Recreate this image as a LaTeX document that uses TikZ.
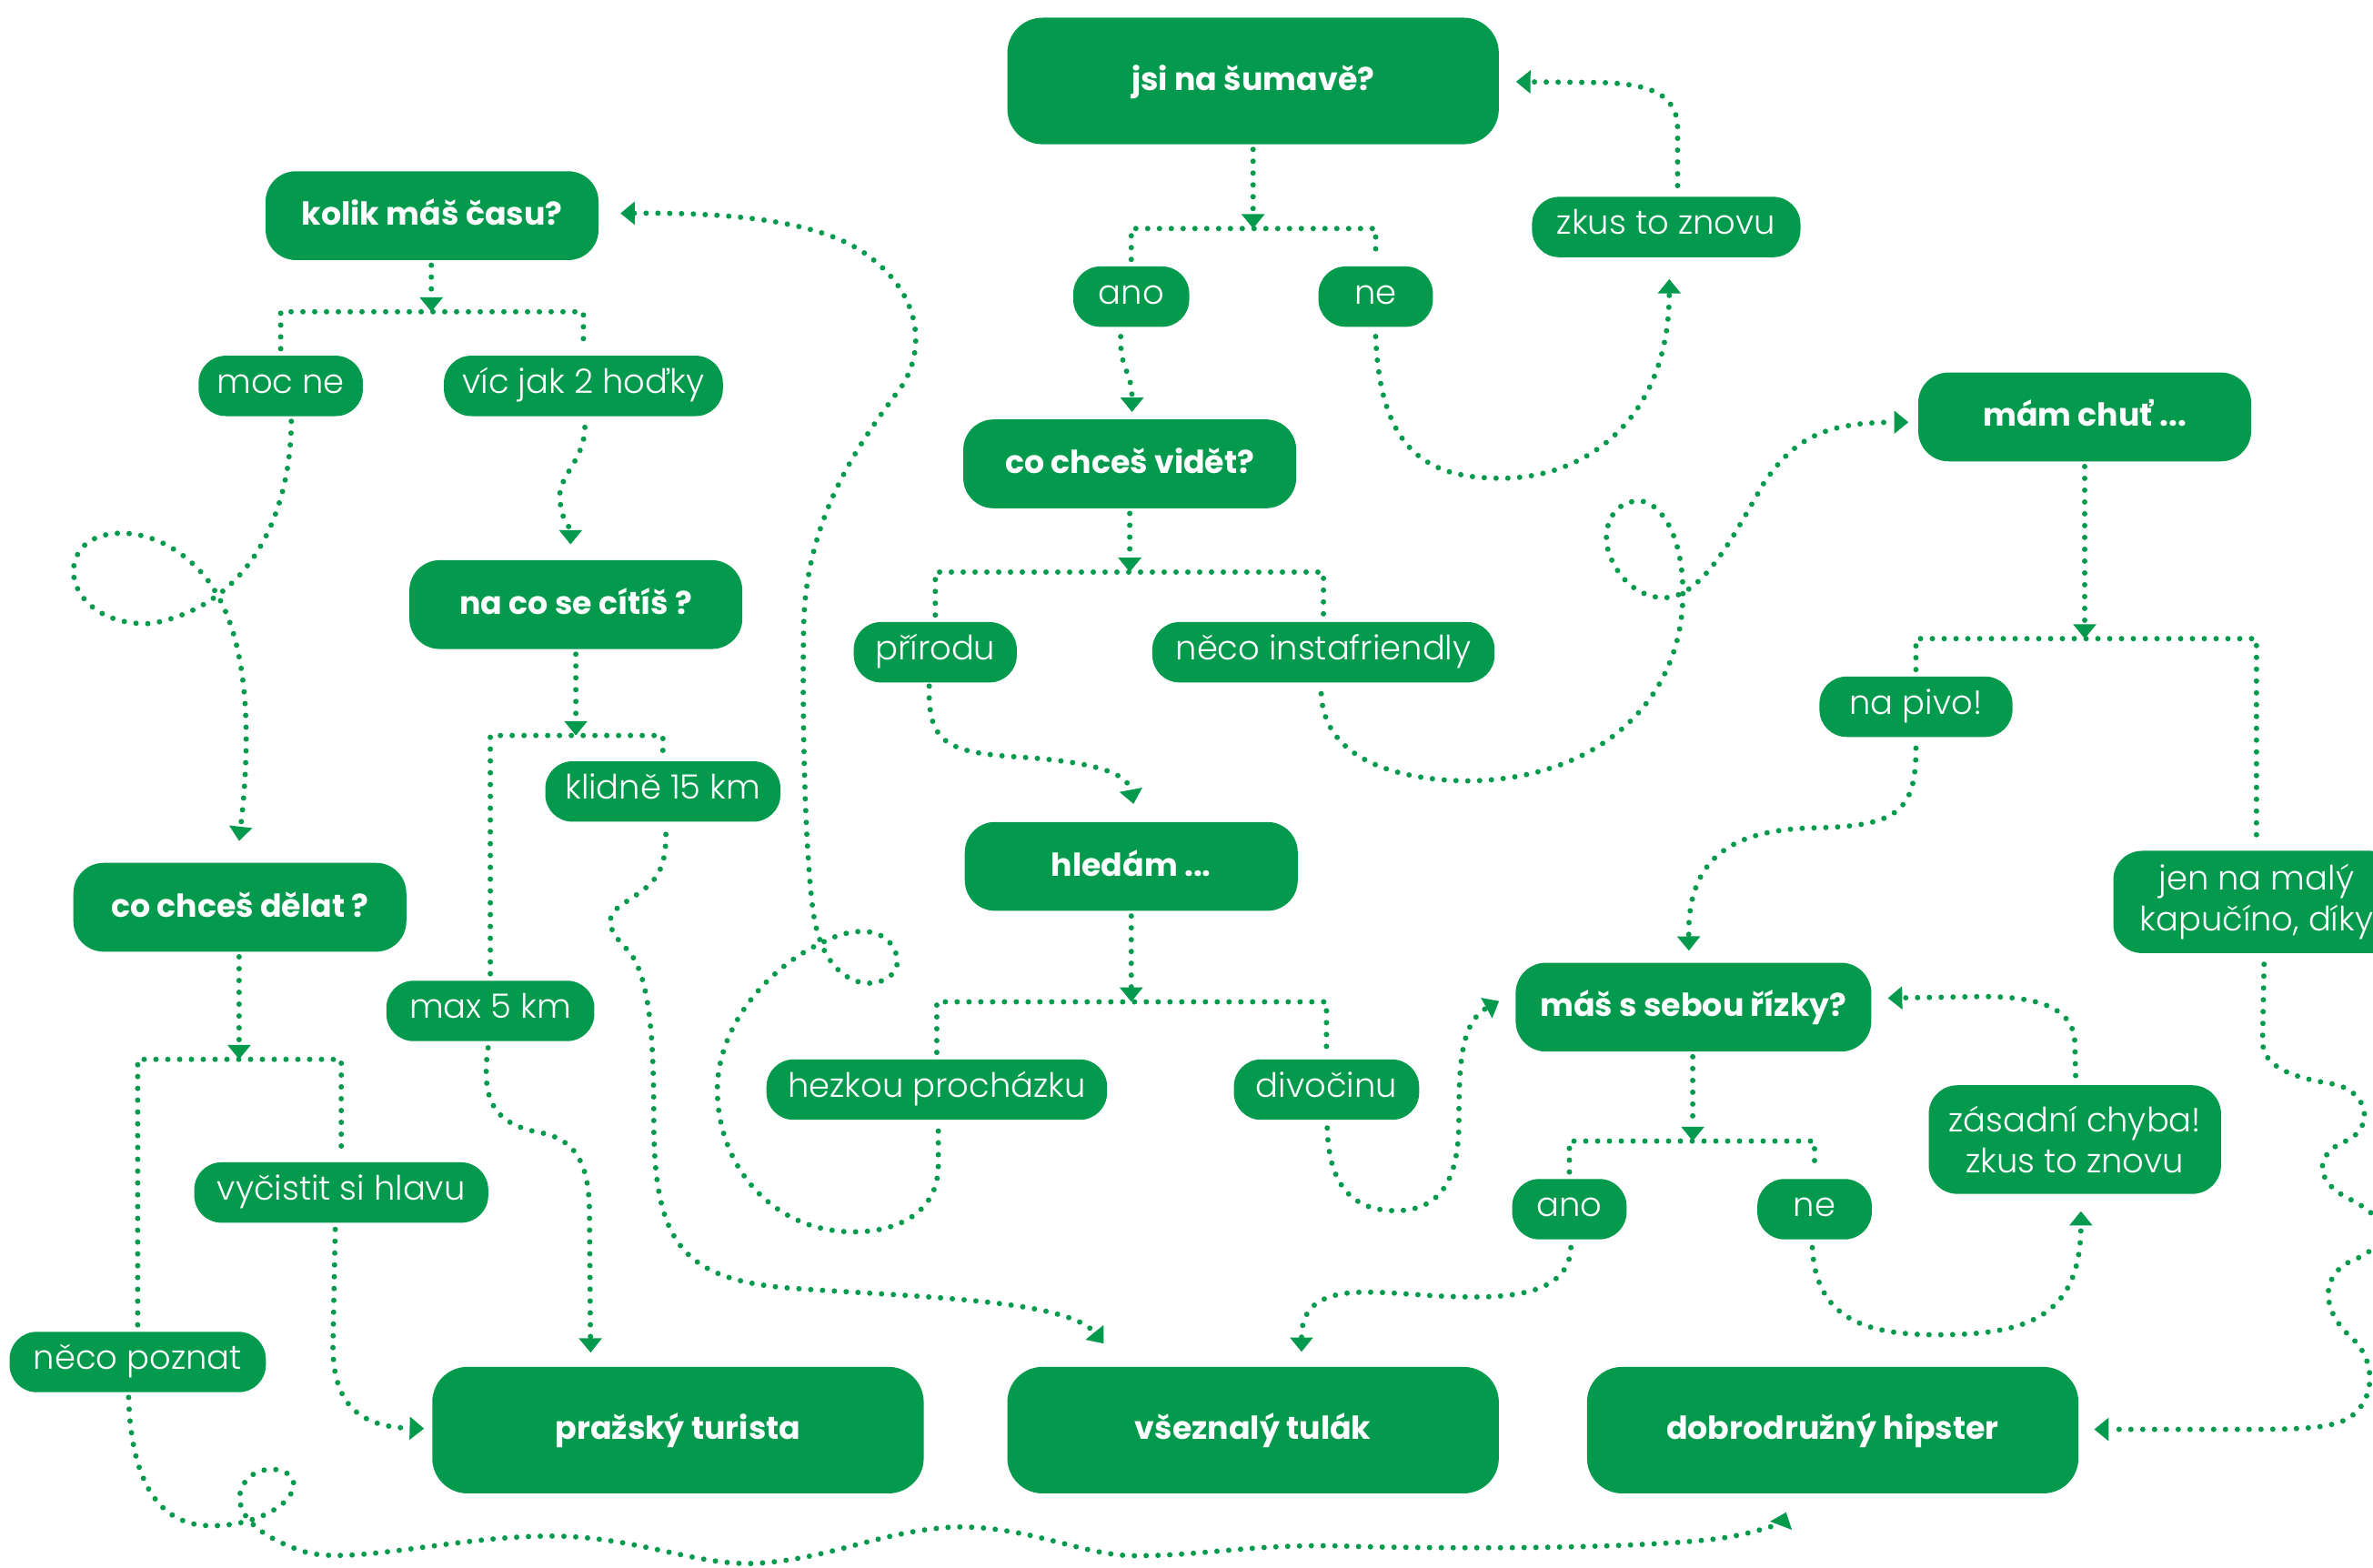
\documentclass[tikz,border=0pt]{standalone}
\usepackage{fontspec}
\setmainfont{Poppins}
\newfontfamily\poplight{Poppins Light}
\usetikzlibrary{arrows.meta,calc}
\definecolor{gr}{RGB}{3,154,77}
\begin{document}
\begin{tikzpicture}[x=0.01664cm,y=-0.01664cm,
 box/.style={fill=gr, text=white, inner sep=0pt, font=\fontsize{9.9}{12}\selectfont\bfseries, text height=0.75em, text depth=0.15em},
 big/.style={box, rounded corners=11pt, minimum width=153.8pt, minimum height=39.6pt},
 mid/.style={box, rounded corners=9.5pt, minimum width=#1, minimum height=27.8pt},
 mid/.default=104.2pt,
 pill/.style={fill=gr, text=white, inner sep=0pt, rounded corners=8.5pt, minimum height=18.9pt, minimum width=#1, font=\fontsize{10.5}{12.7}\selectfont\poplight, text height=0.7em, text depth=0.24em},
 pilltwo/.style 2 args={fill=gr, text=white, inner sep=0pt, rounded corners=9pt, minimum width=#1, minimum height=#2, font=\fontsize{10.5}{12.7}\selectfont\poplight, align=center},
 dots/.style={draw=gr, line width=1.7pt, dash pattern=on 0pt off 3.7pt, line cap=round},
 arr/.style={dots, -{Triangle[length=4.5pt,width=7pt]}},
]
\useasboundingbox (0,0) rectangle (1568,1036);

% main boxes
\node[big] (jsi) at (828,53.5) {jsi na šumavě?};
\node[mid] (kolik) at (285.5,142.5) {kolik máš času?};
\node[mid] (covid) at (746.5,306.5) {co chceš vidět?};
\node[mid] (mam) at (1377.5,275.5) {mám chuť ...};
\node[mid] (naco) at (380.5,399.5) {na co se cítíš ?};
\node[mid] (hledam) at (747.5,572.5) {hledám ...};
\node[mid] (codel) at (158.5,599.5) {co chceš dělat ?};
\node[mid=111.3pt] (rizky) at (1119,665.5) {máš s sebou řízky?};
\node[big] (prazsky) at (448,945) {pražský turista};
\node[big] (tulak) at (828,945) {všeznalý tulák};
\node[big] (hipster) at (1211,945) {dobrodružný hipster};

% pills
\node[pill=84pt] (zkus) at (1101,150) {zkus to znovu};
\node[pill=36.3pt] (ano1) at (747.5,196) {ano};
\node[pill=35.8pt] (ne1) at (909,196) {ne};
\node[pill=51.4pt] (mocne) at (185.5,255) {moc ne};
\node[pill=87.3pt] (vic) at (385.5,255) {víc jak 2 hoďky};
\node[pill=51pt] (prirodu) at (618,431) {přírodu};
\node[pill=107.1pt] (insta) at (874.5,431) {něco instafriendly};
\node[pill=60.4pt] (pivo) at (1266,467) {na pivo!};
\node[pill=73.6pt] (klidne) at (438,523) {klidně 15 km};
\node[pilltwo={89.6pt}{32pt}] (jen) at (1491,596) {jen na malý\\kapučíno, díky};
\node[pill=65.1pt] (max5) at (324,668) {max 5 km};
\node[pill=106.6pt] (hezkou) at (619,720) {hezkou procházku};
\node[pill=58pt] (divo) at (876.5,720) {divočinu};
\node[pill=35.8pt] (ano2) at (1037,799) {ano};
\node[pill=35.8pt] (ne2) at (1199,799) {ne};
\node[pilltwo={91.5pt}{34pt}] (zasadni) at (1371,753) {zásadní chyba!\\zkus to znovu};
\node[pill=92pt] (vycistit) at (225.5,788) {vyčistit si hlavu};
\node[pill=80.2pt] (poznat) at (91,900) {něco poznat};

% branching bars
\coordinate (b1) at (828,151);
\coordinate (b2) at (285,206);
\coordinate (b3) at (746.5,378);
\coordinate (b4) at (1377.5,422);
\coordinate (b5) at (380.5,486);
\coordinate (b6) at (747.5,662);
\coordinate (b7) at (158,700);
\coordinate (b8) at (1118.5,754);

\draw[arr] ($(jsi.south)+(0,3)$) -- (b1);
\draw[dots, shorten <=2pt, shorten >=2pt] (ano1.north) |- (b1) -| (ne1.north);
\draw[arr] ($(kolik.south)+(-0.5,3)$) -- (b2);
\draw[dots, shorten <=2pt, shorten >=2pt] (mocne.north) |- (b2) -| (vic.north);
\draw[arr] ($(covid.south)+(0,3)$) -- (b3);
\draw[dots, shorten <=2pt, shorten >=2pt] (prirodu.north) |- (b3) -| (insta.north);
\draw[arr] ($(mam.south)+(0,3)$) -- (b4);
\draw[dots, shorten <=2pt, shorten >=2pt] (pivo.north) |- (b4) -| (jen.north);
\draw[arr] ($(naco.south)+(0,3)$) -- (b5);
\draw[dots, shorten <=2pt, shorten >=2pt] (max5.north) |- (b5) -| (klidne.north);
\draw[arr] ($(hledam.south)+(0,3)$) -- (b6);
\draw[dots, shorten <=2pt, shorten >=2pt] (hezkou.north) |- (b6) -| (divo.north);
\draw[arr] ($(codel.south)+(-0.5,3)$) -- (b7);
\draw[dots, shorten <=2pt, shorten >=2pt] (poznat.north) |- (b7) -| (vycistit.north);
\draw[arr] ($(rizky.south)+(-0.5,3)$) -- (b8);
\draw[dots, shorten <=2pt, shorten >=2pt] (ano2.north) |- (b8) -| (ne2.north);

% curvy connectors
\draw[arr] ($(ano1.south)+(-7,6)$) .. controls (740,245) and (748,245) .. ($(covid.north)+(1.5,-4.5)$);
\draw[arr] ($(ne1.south)+(0,6)$) .. controls (912,300) and (945,316) .. (992,316) .. controls (1050,316) and (1103,275) .. ($(zkus.south)+(2,14)$);
\draw[arr] ($(zkus.north)+(7.5,-7)$) -- (1108.5,85) .. controls (1108.5,62) and (1090,55) .. (1055,54.5) -- ($(jsi.east)+(11,0.5)$);
\draw[arr] ($(mocne.south)+(7,3)$) .. controls (192,340) and (165,400) .. (100,412) .. controls (60,414) and (40,385) .. (52,365) .. controls (62,348) and (100,345) .. (130,375) .. controls (155,400) and (170,450) .. ($(codel.north)+(-0.5,-14)$);
\draw[arr] ($(vic.south)+(1,7)$) .. controls (386,305) and (368,315) .. (370,330) .. controls (371,345) and (377,348) .. ($(naco.north)+(-3.5,-10)$);
\draw[arr] ($(klidne.south)+(2,8)$) .. controls (440,580) and (430,585) .. (412,597) .. controls (398,606) and (402,615) .. (415,628) .. controls (430,645) and (432,690) .. (432,740) .. controls (432,820) and (450,845) .. (520,851) .. controls (600,857) and (705,858) .. ($(tulak.north west)+(64,-15)$);
\draw[arr] ($(max5.south)+(-1.5,4)$) .. controls (318,725) and (325,742) .. (355,748) .. controls (378,752) and (389,765) .. (389.5,800) -- ($(prazsky.north west)+(105,-9)$);
\draw[arr] ($(vycistit.south)+(-4,4)$) -- (220,890) .. controls (220,930) and (240,943) .. ($(prazsky.west)+(-5,-1)$);
\draw[arr] ($(poznat.south)+(-6,3)$) .. controls (86,960) and (95,1005) .. (135,1008) .. controls (165,1010) and (195,995) .. (194,980) .. controls (193,968) and (165,966) .. (159,985) .. controls (155,1000) and (170,1015) .. (200,1025) .. controls (230,1035) and (300,1015) .. (364,1015) .. controls (420,1015) and (460,1035) .. (500,1033) .. controls (550,1030) and (580,1012) .. (630,1009) .. controls (680,1008) and (715,1028) .. (750,1028) .. controls (800,1028) and (830,1019) .. (900,1022) .. controls (1000,1024) and (1100,1022) .. (1140,1016) .. controls (1165,1012) and (1178,1005) .. ($(hipster.south west)+(132,12)$);
\draw[arr] ($(prirodu.south)+(-4,2)$) .. controls (613,490) and (625,497) .. (670,500) .. controls (720,503) and (745,510) .. ($(hledam.north)+(1.5,-11.5)$);
\draw[arr] ($(insta.south)+(-1.5,7)$) .. controls (875,505) and (930,516) .. (972,516) .. controls (1060,514) and (1112,460) .. (1112,392) .. controls (1112,350) and (1095,331) .. (1083,331) .. controls (1065,331) and (1058,350) .. (1063,365) .. controls (1070,385) and (1085,395) .. (1100,395) .. controls (1125,394) and (1145,355) .. (1165,320) .. controls (1185,290) and (1205,279) .. ($(mam.west)+(-6,3.5)$);
\draw[arr] ($(hezkou.south)+(1,7)$) -- (620,770) .. controls (620,800) and (595,814) .. (564,814) .. controls (510,814) and (474,770) .. (474,720) .. controls (474,680) and (505,640) .. (545,622) .. controls (560,614) and (585,610) .. (592,630) .. controls (597,645) and (580,652) .. (568,649) .. controls (550,644) and (540,625) .. (537,600) .. controls (532,560) and (530,480) .. (531,415) .. controls (532,340) and (570,290) .. (596,255) .. controls (612,230) and (608,195) .. (575,170) .. controls (550,150) and (500,140) .. ($(kolik.east)+(14,-1.5)$);
\draw[arr] ($(divo.south)+(0.5,5)$) .. controls (878,790) and (900,800) .. (922,800) .. controls (955,800) and (964,775) .. (964,740) .. controls (964,700) and (966,675) .. ($(rizky.west)+(-10.5,-4)$);
\draw[arr] ($(pivo.south)+(0,7)$) .. controls (1266,535) and (1255,546) .. (1200,547) .. controls (1140,548) and (1115,570) .. ($(rizky.north)+(-3,-7.5)$);
\draw[arr] ($(jen.south)+(5,7)$) -- (1495,688) .. controls (1495,705) and (1515,712) .. (1540,716) .. controls (1565,720) and (1570,745) .. (1550,754) .. controls (1530,762) and (1528,780) .. (1552,792) .. controls (1580,806) and (1582,822) .. (1552,834) .. controls (1532,845) and (1535,868) .. (1555,885) .. controls (1570,900) and (1570,925) .. (1552,937) .. controls (1540,944) and (1520,944.5) .. (1480,944.5) -- ($(hipster.east)+(10,-0.5)$);
\draw[arr] ($(zasadni.north)+(0.5,-6)$) -- (1371,690) .. controls (1371,665) and (1345,658.5) .. (1310,658.5) -- ($(rizky.east)+(10.5,-6)$);
\draw[arr] ($(ano2.south)+(1,5)$) .. controls (1037,850) and (1010,857) .. (975,857) .. controls (940,857) and (920,853) .. (895,854) .. controls (865,856) and (860,870) .. ($(tulak.north)+(32,-9.5)$);
\draw[arr] ($(ne2.south)+(-1.5,5)$) .. controls (1200,870) and (1230,882) .. (1280,882) .. controls (1340,882) and (1375,870) .. ($(zasadni.south)+(4,11)$);
\end{tikzpicture}
\end{document}
